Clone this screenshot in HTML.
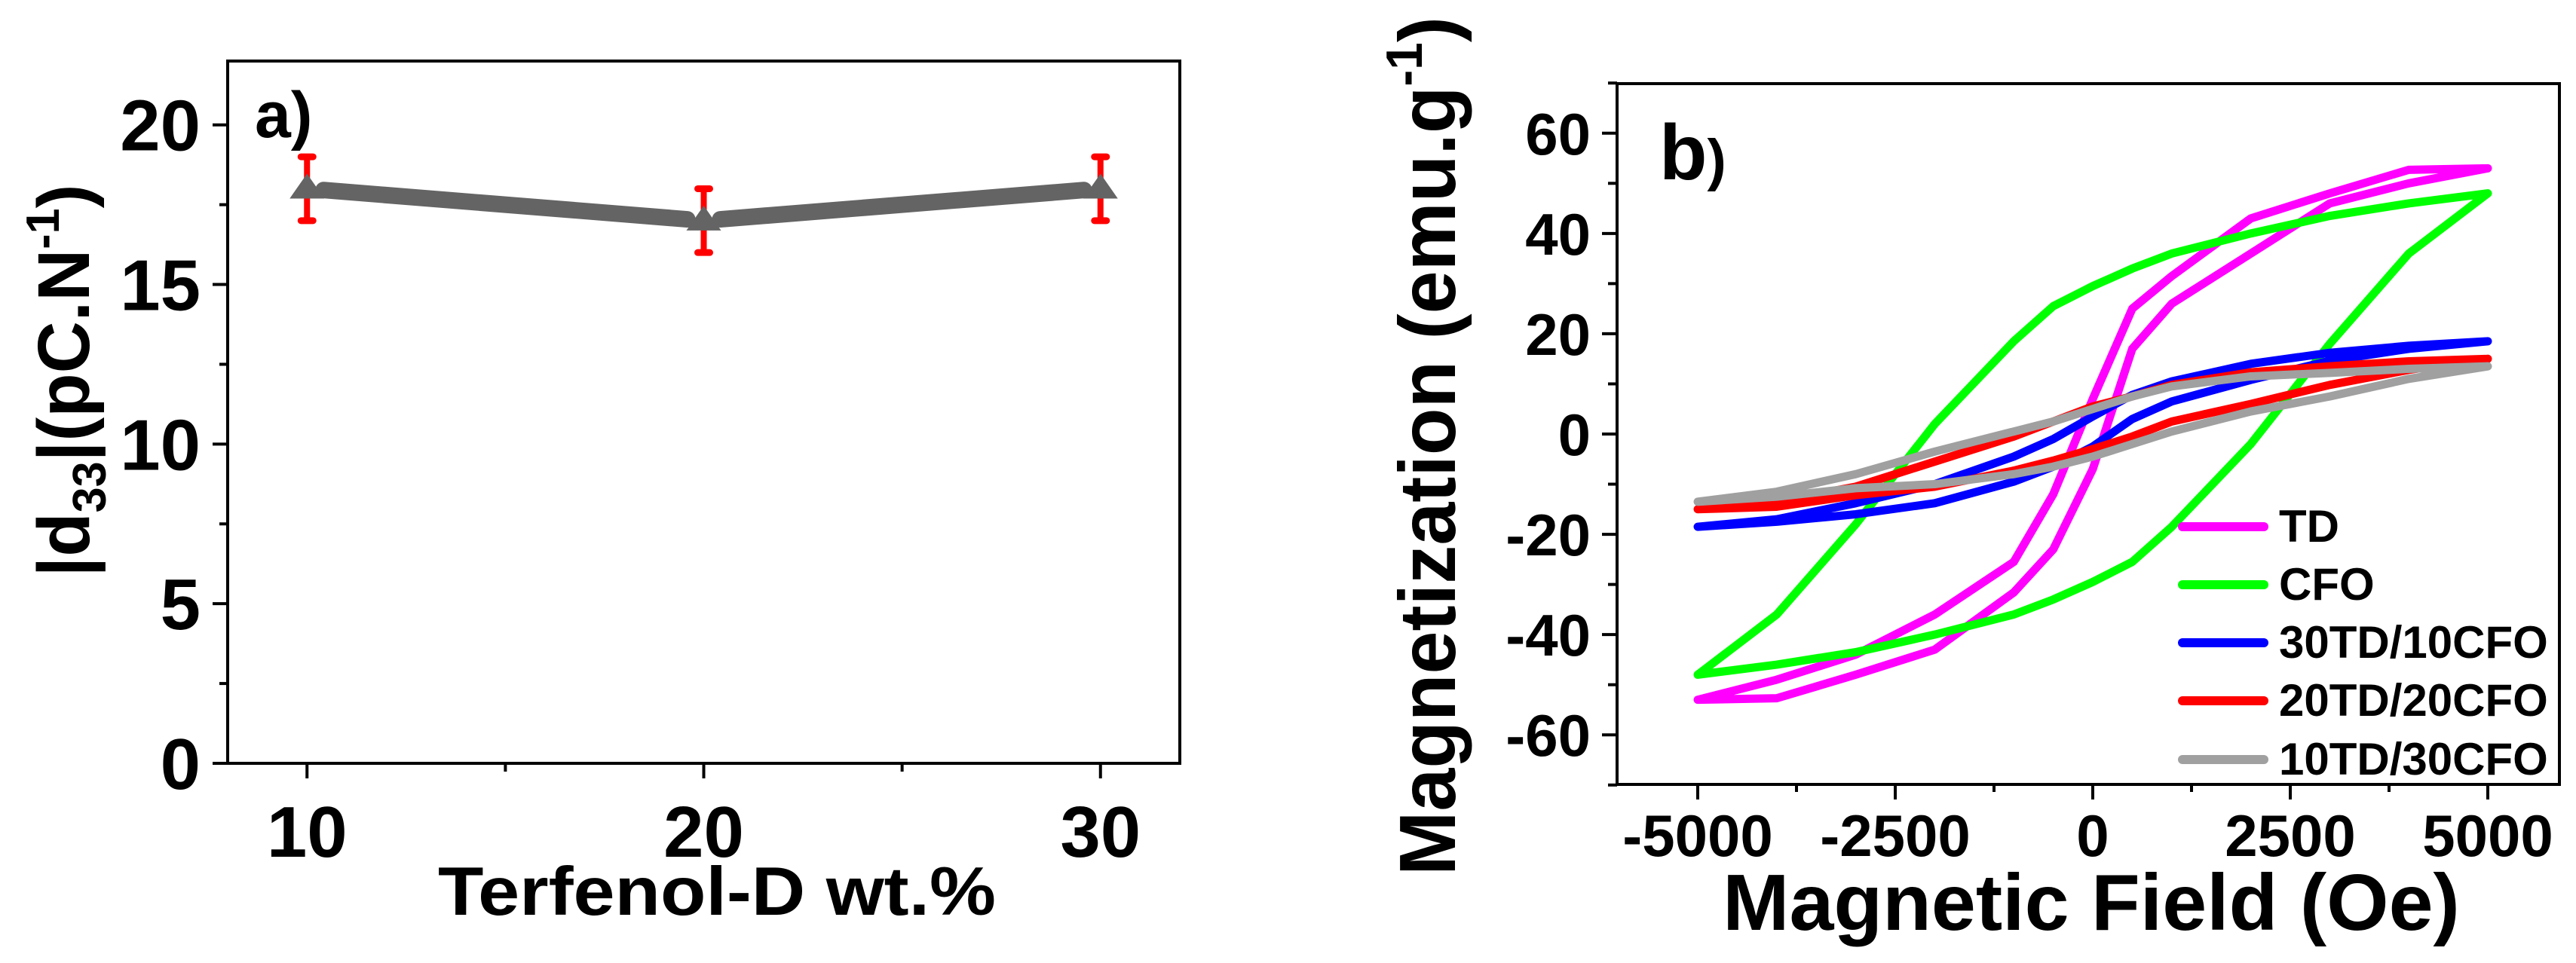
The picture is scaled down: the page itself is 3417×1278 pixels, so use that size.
<!DOCTYPE html>
<html><head><meta charset="utf-8"><style>
html,body{margin:0;padding:0;background:#fff}
svg{display:block}
text{font-family:"Liberation Sans",Arial,sans-serif;font-weight:bold;fill:#000}
</style></head><body>
<svg id="fig" width="3417" height="1278" viewBox="0 0 3417 1278" xmlns="http://www.w3.org/2000/svg">
<g id="pa"></g>
<g id="pb"></g>
</svg>
<script>
// ---- Panel a data ----
const aCats = [10, 20, 30];
const aVals = [18, 17, 18];
const aErr = [1, 1, 1];
const aYTicks = [0, 5, 10, 15, 20];
const aXTicks = [10, 20, 30];
// ---- Panel b data ----
const bH = [-5000,-4000,-3000,-2000,-1000,-500,0,500,1000,2000,3000,4000,5000];
const tdUp = [-53,-49,-44,-36,-25.5,-12,7,25,31.5,43,48,52.7,53];
const tdLo = [-53,-52.7,-48,-43,-31.6,-23,-7,17,26,36,46,50,53];
const cfoUp = [-48,-36,-18,2,18.5,25.5,29.5,33,36,40,43.5,46,48];
const cfoLo = [-48,-46,-43.5,-40,-36,-33,-29.5,-25.5,-18.5,-2,18,36,48];
const b30Up = [-18.5,-17,-13.8,-10,-4.5,-1,3.5,7.8,10.5,14,16.2,17.6,18.5];
const b30Lo = [-18.5,-17.5,-16,-13.8,-9.5,-6.5,-2.5,3,6.5,10.8,14.6,17,18.5];
const r20Up = [-15,-13.5,-10.5,-5.5,-0.5,2.5,5.5,7.5,9.8,12.3,13.5,14.5,15];
const r20Lo = [-15,-14.5,-12.2,-10.5,-7.3,-5.3,-3,-0.5,2.5,6,9.8,12.8,15];
const g10Up = [-13.5,-11.5,-8,-3.5,0.5,2.5,5,7.5,9.5,11.5,12.2,13,13.5];
const g10Lo = [-13.5,-12.5,-10.8,-10,-8,-6.5,-4.5,-2,0.5,4.5,7.5,11,13.5];
const bNames = ["TD","CFO","30TD/10CFO","20TD/20CFO","10TD/30CFO"];
const bXTicks = [-5000,-2500,0,2500,5000];
const bYTicks = [-60,-40,-20,0,20,40,60];

const NS="http://www.w3.org/2000/svg";
function mk(parent, tag, attrs){const e=document.createElementNS(NS,tag);for(const k in attrs)e.setAttribute(k,attrs[k]);parent.appendChild(e);return e;}

// ---------- Panel a ----------
const pa=document.getElementById('pa');
const aL=302,aR=1565,aT=81,aB=1013;
const ax=v=>aL+(v-8)/(32-8)*(aR-aL);
const ay=v=>aB-(v-0)/(22-0)*(aB-aT);
let fr=mk(pa,'rect',{x:aL,y:aT,width:aR-aL,height:aB-aT,fill:'none',stroke:'#000','stroke-width':4});


for(let v=0;v<=22;v+=2.5){
  const maj=(v%5===0);
  const t=mk(pa,'line',{x1:aL,x2:aL-(maj?20:11),y1:ay(v),y2:ay(v),stroke:'#000','stroke-width':4});
  
  
}
aYTicks.forEach(v=>{
  const t=mk(pa,'text',{x:266,y:ay(v)+34,'font-size':96,'text-anchor':'end'});t.textContent=v;
  
  
});
for(let v=10;v<=30;v+=5){
  const maj=(v%10===0);
  const t=mk(pa,'line',{x1:ax(v),x2:ax(v),y1:aB,y2:aB+(maj?20:11),stroke:'#000','stroke-width':4});
  
  
}
aXTicks.forEach(v=>{
  const t=mk(pa,'text',{x:ax(v),y:1137,'font-size':96,'text-anchor':'middle'});t.textContent=v;
  
  
});
let xta=mk(pa,'text',{x:951,y:1214,'font-size':91,'text-anchor':'middle',textLength:740,lengthAdjust:'spacingAndGlyphs'});
xta.textContent='Terfenol-D wt.%';


let yta=mk(pa,'text',{transform:'translate(118,505) rotate(-90)','font-size':97,'text-anchor':'middle',textLength:521,lengthAdjust:'spacingAndGlyphs'});
yta.innerHTML='|d<tspan font-size="62" dy="22">33</tspan><tspan dy="-22">|(pC.N</tspan><tspan font-size="62" dy="-40">-1</tspan><tspan dy="40">)</tspan>';


let la=mk(pa,'text',{x:338,y:182,'font-size':86});la.textContent='a)';


for(let i=0;i<aCats.length-1;i++){
  const dx=ax(aCats[i+1])-ax(aCats[i]), dy=ay(aVals[i+1])-ay(aVals[i]);
  const len=Math.hypot(dx,dy), g=22;
  const s=mk(pa,'line',{x1:ax(aCats[i])+dx/len*g,y1:ay(aVals[i])+dy/len*g,x2:ax(aCats[i+1])-dx/len*g,y2:ay(aVals[i+1])-dy/len*g,stroke:'#646464','stroke-width':22,'stroke-linecap':'round'});
  
  
}
aCats.forEach((c,i)=>{
  const x=ax(c);
  const eb=mk(pa,'g',{});
  
  
  mk(eb,'line',{x1:x,x2:x,y1:ay(aVals[i]-aErr[i]),y2:ay(aVals[i]+aErr[i]),stroke:'#ff0000','stroke-width':8});
  [aVals[i]-aErr[i],aVals[i]+aErr[i]].forEach(v=>mk(eb,'line',{x1:x-8,x2:x+8,y1:ay(v),y2:ay(v),stroke:'#ff0000','stroke-width':9,'stroke-linecap':'round'}));
  const y=ay(aVals[i]);
  const tri=mk(pa,'polygon',{points:`${x-23},${y+13} ${x+23},${y+13} ${x},${y-20}`,fill:'#646464'});
  
  
});

// ---------- Panel b ----------
const pb=document.getElementById('pb');
const bL=2145,bR=3395,bT=111,bB=1041;
const bx=h=>2776+h*0.1048;
const by=m=>576-m*6.654;
let frb=mk(pb,'rect',{x:bL,y:bT,width:bR-bL,height:bB-bT,fill:'none',stroke:'#000','stroke-width':4});


for(let v=-70;v<=70;v+=10){
  const maj=(v%20===0);
  const t=mk(pb,'line',{x1:bL,x2:bL-(maj?20:12),y1:by(v),y2:by(v),stroke:'#000','stroke-width':4});
  
  
}
bYTicks.forEach(v=>{
  const t=mk(pb,'text',{x:2110,y:by(v)+28,'font-size':78,'text-anchor':'end'});t.textContent=v;
  
  
});
for(let v=-5000;v<=5000;v+=1250){
  const maj=(v%2500===0);
  const t=mk(pb,'line',{x1:bx(v),x2:bx(v),y1:bB,y2:bB+(maj?20:10),stroke:'#000','stroke-width':4});
  
  
}
bXTicks.forEach(v=>{
  const t=mk(pb,'text',{x:bx(v),y:1136,'font-size':78,'text-anchor':'middle'});t.textContent=v;
  
  
});
let xtb=mk(pb,'text',{x:2774,y:1234,'font-size':106,'text-anchor':'middle'});
xtb.textContent='Magnetic Field (Oe)';


let ytb=mk(pb,'text',{transform:'translate(1930,592) rotate(-90)','font-size':106,'text-anchor':'middle',textLength:1140,lengthAdjust:'spacingAndGlyphs'});
ytb.innerHTML='Magnetization (emu.g<tspan font-size="68" dy="-44">-1</tspan><tspan dy="44">)</tspan>';


let lb=mk(pb,'text',{x:2201,y:238,'font-size':104});lb.innerHTML='b<tspan font-size="76">)</tspan>';



const series=[[tdUp,tdLo,'#ff00ff'],[cfoUp,cfoLo,'#00ff00'],[b30Up,b30Lo,'#0000ff'],[r20Up,r20Lo,'#ff0000'],[g10Up,g10Lo,'#a0a0a0']];
const slugs=['td','cfo','30td-10cfo','20td-20cfo','10td-30cfo'];
series.forEach((s,k)=>{
  const pts=[];
  for(let i=bH.length-1;i>=0;i--)pts.push(bx(bH[i])+','+by(s[0][i]));
  for(let i=0;i<bH.length;i++)pts.push(bx(bH[i])+','+by(s[1][i]));
  const p=mk(pb,'polyline',{points:pts.join(' '),fill:'none',stroke:s[2],'stroke-width':11,'stroke-linejoin':'round','stroke-linecap':'round'});
  
  
});
const legY=[699,776,853,930,1008];
bNames.forEach((n,k)=>{
  const g=mk(pb,'g',{});
  
  
  mk(g,'line',{x1:2895,x2:3003,y1:legY[k],y2:legY[k],stroke:series[k][2],'stroke-width':12,'stroke-linecap':'round'});
  const t=mk(g,'text',{x:3023,y:legY[k]+20,'font-size':60});t.textContent=n;
});
</script>
</body></html>
